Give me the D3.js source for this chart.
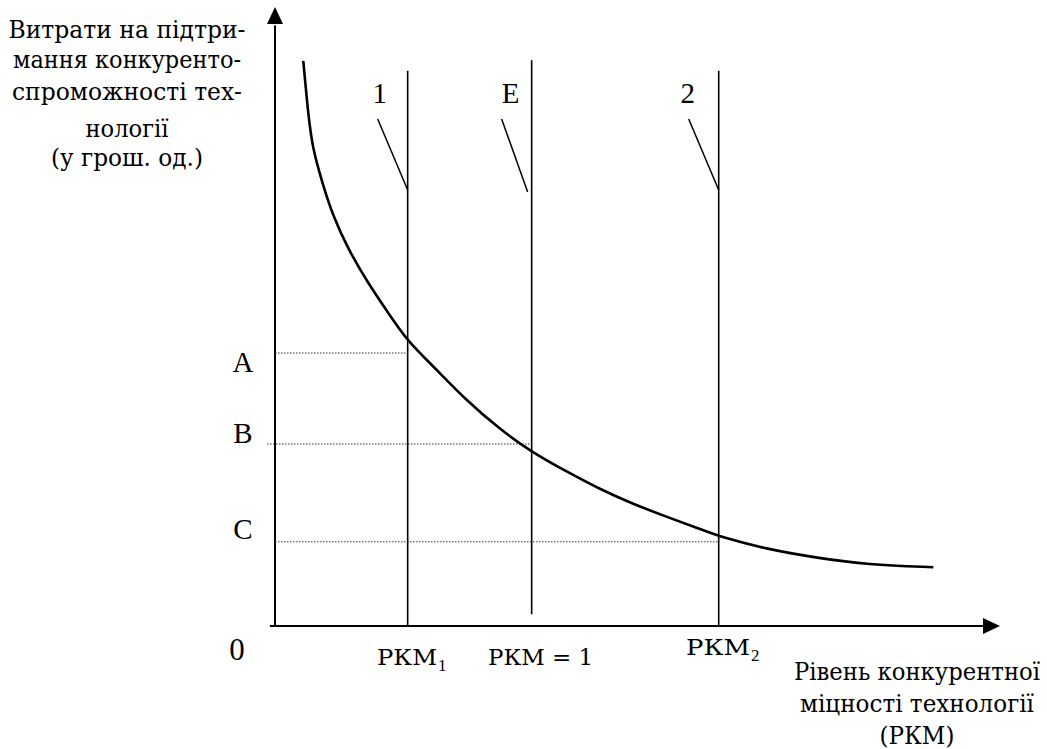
<!DOCTYPE html>
<html>
<head>
<meta charset="utf-8">
<script src="https://cdn.jsdelivr.net/npm/d3@7"></script>
<style>
  body { margin: 0; background: #fff; }
  text { font-family: 'Liberation Serif', serif; fill: #000; }
  text.cyr { font-family: 'DejaVu Serif', serif; }
</style>
</head>
<body>
<script>
// cost curve (x = РКМ level, y = cost), 0..100 units
const curveX = [3.9, 4.6, 5.2, 6.5, 8.0, 10.1, 12.7, 15.9, 18.3, 21.8, 26.5, 31.0, 35.4, 40.3, 44.8, 49.4, 54.1, 58.6, 61.4, 67.9, 74.8, 81.7, 90.8];
const curveY = [91.3, 82.4, 77.1, 71.7, 66.2, 60.9, 55.6, 50.1, 46.0, 42.0, 36.3, 31.8, 28.1, 24.9, 22.1, 19.7, 17.6, 15.7, 14.4, 12.4, 11.0, 9.9, 9.5];

// vertical lines 1, E, 2
const vNames = ['1', 'E', '2'];
const vX = [18.3, 35.4, 61.2];
const vTop = [89.7, 91.4, 89.7];
const vBottom = [0, 1.9, 0];

// dotted cost levels A, B, C
const levelNames = ['A', 'B', 'C'];
const levelY = [44.1, 29.4, 13.6];
const levelFrom = [0, -1.1, 0];
const levelTo = [18.3, 35.4, 61.2];

// x tick labels (text + subscript)
const tickNames = ['РКМ', 'РКМ = 1', 'РКМ'];
const tickSubs = ['1', '', '2'];

const yTitle = ['Витрати на підтри-', 'мання конкуренто-', 'спроможності тех-', 'нології', '(у грош. од.)'];
const xTitle = ['Рівень конкурентної', 'міцності технології', '(РКМ)'];

// widths of the text lines as they appear in the picture (the serif Cyrillic here is wider)
const yTitleW = [237, 228, 230, 83, 152];
const xTitleW = [246, 234, 75];
const tickW = [60, 105, 64];

const width = 1047;
const height = 749;

const x = d3.scaleLinear().domain([0, 100]).range([275, 1000]);
const y = d3.scaleLinear().domain([0, 100]).range([626, 7]);

const svg = d3.select('body').append('svg')
  .attr('width', width)
  .attr('height', height);

// axes
svg.append('line')
  .attr('x1', x(0)).attr('y1', y(0))
  .attr('x2', x(0)).attr('y2', y(97))
  .attr('stroke', '#000').attr('stroke-width', 2);
svg.append('path')
  .attr('d', `M${x(0)} ${y(100)} L${x(0) - 8} ${y(100) + 17} L${x(0) + 8} ${y(100) + 17} Z`)
  .attr('fill', '#000');

svg.append('line')
  .attr('x1', x(-0.7)).attr('y1', y(0))
  .attr('x2', x(97.8)).attr('y2', y(0))
  .attr('stroke', '#000').attr('stroke-width', 2);
svg.append('path')
  .attr('d', `M${x(100)} ${y(0)} L${x(100) - 17} ${y(0) - 8} L${x(100) - 17} ${y(0) + 8} Z`)
  .attr('fill', '#000');

// dotted levels
svg.selectAll('.level')
  .data(levelNames)
  .join('line')
  .attr('class', 'level')
  .attr('x1', (d, i) => x(levelFrom[i]))
  .attr('x2', (d, i) => x(levelTo[i]))
  .attr('y1', (d, i) => y(levelY[i]))
  .attr('y2', (d, i) => y(levelY[i]))
  .attr('stroke', '#333')
  .attr('stroke-width', 1)
  .attr('stroke-dasharray', '1.5,1.5');

svg.selectAll('.levelLabel')
  .data(levelNames)
  .join('text')
  .attr('class', 'levelLabel')
  .attr('x', 243)
  .attr('y', (d, i) => y(levelY[i]) + [19, -1, -3][i])
  .attr('text-anchor', 'middle')
  .style('font-size', '29px')
  .text((d) => d);

// vertical lines
svg.selectAll('.vline')
  .data(vNames)
  .join('line')
  .attr('class', 'vline')
  .attr('x1', (d, i) => x(vX[i]))
  .attr('x2', (d, i) => x(vX[i]))
  .attr('y1', (d, i) => y(vTop[i]))
  .attr('y2', (d, i) => y(vBottom[i]))
  .attr('stroke', '#000')
  .attr('stroke-width', 1.6);

// leader strokes next to each line label
svg.selectAll('.leader')
  .data(vNames)
  .join('line')
  .attr('class', 'leader')
  .attr('x1', (d, i) => x(vX[i]) - 30)
  .attr('y1', 119)
  .attr('x2', (d, i) => x(vX[i]) - [0, 4, 0][i])
  .attr('y2', (d, i) => [190, 192, 190][i])
  .attr('stroke', '#000')
  .attr('stroke-width', 1.5);

svg.selectAll('.vLabel')
  .data(vNames)
  .join('text')
  .attr('class', 'vLabel')
  .attr('x', (d, i) => x(vX[i]) - [28, 21, 31][i])
  .attr('y', 103)
  .attr('text-anchor', 'middle')
  .style('font-size', '29px')
  .text((d) => d);

// cost curve
const pts = curveX.map((v, i) => [x(v), y(curveY[i])]);
svg.append('path')
  .attr('d', d3.line().curve(d3.curveBasis)(pts))
  .attr('fill', 'none')
  .attr('stroke', '#000')
  .attr('stroke-width', 2.6);

// tick labels
svg.append('text')
  .attr('x', 237).attr('y', 660)
  .attr('text-anchor', 'middle')
  .style('font-size', '31px')
  .text('0');

const tickStart = [377, 488, 686];
const tickBase = [665, 665, 655];
tickNames.forEach((name, i) => {
  svg.append('text')
    .attr('class', 'cyr')
    .attr('x', tickStart[i])
    .attr('y', tickBase[i])
    .attr('textLength', tickW[i])
    .attr('lengthAdjust', 'spacingAndGlyphs')
    .style('font-size', '23px')
    .text(name);
  if (tickSubs[i]) {
    svg.append('text')
      .attr('x', tickStart[i] + tickW[i] + 1)
      .attr('y', tickBase[i] + 6)
      .style('font-size', '17px')
      .text(tickSubs[i]);
  }
});

// axis titles
svg.selectAll('.yTitle')
  .data(yTitle)
  .join('text')
  .attr('class', 'yTitle cyr')
  .attr('x', (d, i) => 127 - yTitleW[i] / 2)
  .attr('y', (d, i) => [38, 68, 100, 137, 166][i])
  .attr('textLength', (d, i) => yTitleW[i])
  .attr('lengthAdjust', 'spacingAndGlyphs')
  .style('font-size', '25px')
  .text((d) => d);

svg.selectAll('.xTitle')
  .data(xTitle)
  .join('text')
  .attr('class', 'xTitle cyr')
  .attr('x', (d, i) => 917 - xTitleW[i] / 2)
  .attr('y', (d, i) => 680 + i * 32)
  .attr('textLength', (d, i) => xTitleW[i])
  .attr('lengthAdjust', 'spacingAndGlyphs')
  .style('font-size', '25px')
  .text((d) => d);
</script>
</body>
</html>
